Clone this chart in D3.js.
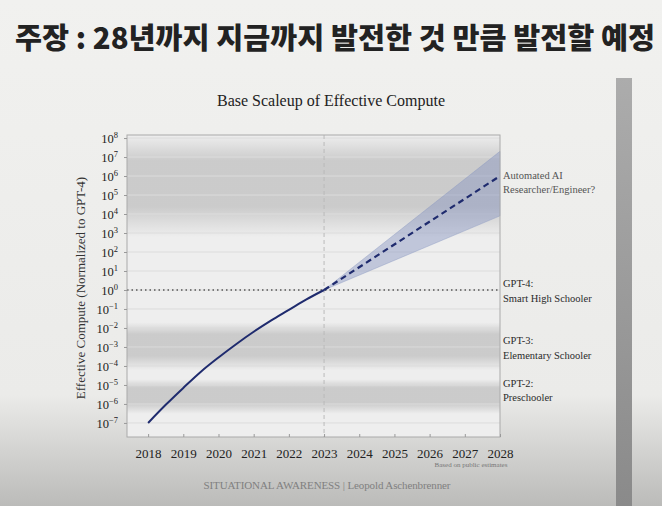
<!DOCTYPE html>
<html>
<head>
<meta charset="utf-8">
<script src="https://cdn.jsdelivr.net/npm/d3@7"></script>
<style>
  html, body { margin: 0; padding: 0; background: #efefed; }
  svg { display: block; }
</style>
</head>
<body>
<svg id="chart" width="662" height="506"></svg>
<script>
// historical trend (effective compute, normalized to GPT-4)
const years = [2018, 2018.5, 2019, 2019.5, 2020, 2020.5, 2021, 2021.5, 2022, 2022.5, 2023];
const compute = [1e-7, 9e-7, 7e-6, 5e-5, 2.8e-4, 1.4e-3, 6.3e-3, 2.5e-2, 8.9e-2, 3.2e-1, 1];

// projection 2023 -> 2028
const projYears = [2023, 2028];
const projMid = [1, 1e6];
const projLow = [1, 8e3];
const projHigh = [1, 2e7];

// milestone labels on the right
const milestones = [
  { lines: ["Automated AI", "Researcher/Engineer?"], value: 5e5, color: "#555" },
  { lines: ["GPT-4:", "Smart High Schooler"], value: 1, color: "#2a2a2a" },
  { lines: ["GPT-3:", "Elementary Schooler"], value: 1e-3, color: "#2a2a2a" },
  { lines: ["GPT-2:", "Preschooler"], value: 6e-6, color: "#2a2a2a" }
];

// shaded level bands [from, to]
const bands = [
  [1.5e8, 6e2],
  [2e-2, 6e-5],
  [2e-5, 3e-7]
];

const xTicks = d3.range(2018, 2029);
const yExps = d3.range(-7, 9);

const svg = d3.select("#chart");
const W = 662, H = 506;
const serif = "'Liberation Serif', 'DejaVu Serif', serif";

const defs = svg.append("defs");
const bg = defs.append("linearGradient").attr("id", "bg").attr("x1", 0).attr("y1", 0).attr("x2", 0).attr("y2", 1);
bg.append("stop").attr("offset", "0%").attr("stop-color", "#f1f1ef");
bg.append("stop").attr("offset", "78%").attr("stop-color", "#ebebe9");
bg.append("stop").attr("offset", "100%").attr("stop-color", "#bbbbb9");

const bar = defs.append("linearGradient").attr("id", "bar").attr("x1", 0).attr("y1", 0).attr("x2", 0).attr("y2", 1);
bar.append("stop").attr("offset", "0%").attr("stop-color", "#acacac");
bar.append("stop").attr("offset", "100%").attr("stop-color", "#8a8a8a");

const band = defs.append("linearGradient").attr("id", "band").attr("x1", 0).attr("y1", 0).attr("x2", 0).attr("y2", 1);
band.append("stop").attr("offset", "0%").attr("stop-color", "#b4b4b4").attr("stop-opacity", 0);
band.append("stop").attr("offset", "25%").attr("stop-color", "#b4b4b4").attr("stop-opacity", 0.6);
band.append("stop").attr("offset", "70%").attr("stop-color", "#b4b4b4").attr("stop-opacity", 0.6);
band.append("stop").attr("offset", "100%").attr("stop-color", "#b4b4b4").attr("stop-opacity", 0);

svg.append("rect").attr("width", W).attr("height", H).attr("fill", "url(#bg)");
svg.append("rect").attr("x", 616).attr("y", 78).attr("width", 16).attr("height", H - 78).attr("fill", "url(#bar)");

// Korean headline
svg.append("text")
  .attr("x", 15).attr("y", 49)
  .attr("font-family", "'Noto Sans CJK KR', sans-serif")
  .attr("font-weight", 900)
  .attr("font-size", 29)
  .attr("fill", "#222")
  .attr("textLength", 640)
  .attr("lengthAdjust", "spacingAndGlyphs")
  .text("주장 : 28년까지 지금까지 발전한 것 만큼 발전할 예정");

const x = d3.scaleLinear().domain([2017.4, 2028]).range([127, 500]);
const y = d3.scaleLog().domain([Math.pow(10, -7.74), Math.pow(10, 8.16)]).range([437, 135]);
const [x0, x1] = x.range();
const [yb, yt] = y.range();

svg.append("text")
  .attr("x", 331).attr("y", 106)
  .attr("text-anchor", "middle")
  .attr("font-family", serif).attr("font-size", 16).attr("fill", "#222")
  .text("Base Scaleup of Effective Compute");

// plot background
svg.append("rect").attr("x", x0).attr("y", yt).attr("width", x1 - x0).attr("height", yb - yt).attr("fill", "#eeeeee");

svg.append("g").selectAll("rect")
  .data(bands)
  .join("rect")
  .attr("x", x0).attr("width", x1 - x0)
  .attr("y", d => Math.max(yt, y(d[0])))
  .attr("height", d => y(d[1]) - Math.max(yt, y(d[0])))
  .attr("fill", "url(#band)");

// horizontal grid
svg.append("g").selectAll("line")
  .data(yExps)
  .join("line")
  .attr("x1", x0).attr("x2", x1)
  .attr("y1", d => y(Math.pow(10, d))).attr("y2", d => y(Math.pow(10, d)))
  .attr("stroke", "#dcdcdc").attr("stroke-width", 1);

// 2023 marker
svg.append("line")
  .attr("x1", x(2023)).attr("x2", x(2023)).attr("y1", yt).attr("y2", yb)
  .attr("stroke", "#bbb").attr("stroke-width", 1).attr("stroke-dasharray", "4,3");

// GPT-4 level
svg.append("line")
  .attr("x1", x0).attr("x2", x1).attr("y1", y(1)).attr("y2", y(1))
  .attr("stroke", "#555").attr("stroke-width", 1.3).attr("stroke-dasharray", "1.5,3");

// projection cone
const proj = projYears.map((yr, i) => ({ yr, lo: projLow[i], hi: projHigh[i], mid: projMid[i] }));
svg.append("path")
  .datum(proj)
  .attr("d", d3.area().x(d => x(d.yr)).y0(d => y(d.lo)).y1(d => y(d.hi)))
  .attr("fill", "#8895c0").attr("fill-opacity", 0.45)
  .attr("stroke", "#8895c0").attr("stroke-opacity", 0.5).attr("stroke-width", 0.8);

svg.append("path")
  .datum(proj)
  .attr("d", d3.line().x(d => x(d.yr)).y(d => y(d.mid)))
  .attr("fill", "none").attr("stroke", "#1f2b6e").attr("stroke-width", 2.2).attr("stroke-dasharray", "6,4");

// historical curve
svg.append("path")
  .datum(years.map((yr, i) => [yr, compute[i]]))
  .attr("d", d3.line().x(d => x(d[0])).y(d => y(d[1])).curve(d3.curveMonotoneX))
  .attr("fill", "none").attr("stroke", "#1f2b6e").attr("stroke-width", 2);

// frame
svg.append("rect").attr("x", x0).attr("y", yt).attr("width", x1 - x0).attr("height", yb - yt)
  .attr("fill", "none").attr("stroke", "#aaa").attr("stroke-width", 1);

// y axis
const yAxis = svg.append("g").attr("transform", `translate(${x0},0)`)
  .call(d3.axisLeft(y).tickValues(yExps.map(e => Math.pow(10, e))).tickSize(3).tickFormat(() => ""));
yAxis.select(".domain").remove();
yAxis.selectAll(".tick line").attr("stroke", "#999");
yAxis.selectAll(".tick").each(function(d) {
  const e = Math.round(Math.log10(d));
  const t = d3.select(this).append("text")
    .attr("x", -9).attr("y", 0).attr("dy", "0.35em")
    .attr("text-anchor", "end")
    .attr("font-family", serif).attr("font-size", 12.5).attr("fill", "#222");
  t.append("tspan").text("10");
  t.append("tspan").attr("font-size", 8.5).attr("dy", "-0.55em")
    .text(e < 0 ? "\u2212" + Math.abs(e) : String(e));
});

// x axis
const xAxis = svg.append("g").attr("transform", `translate(0,${yb})`)
  .call(d3.axisBottom(x).tickValues(xTicks).tickSize(-3).tickPadding(12).tickFormat(d3.format("d")));
xAxis.select(".domain").remove();
xAxis.selectAll(".tick line").attr("stroke", "#999");
xAxis.selectAll(".tick text").attr("font-family", serif).attr("font-size", 13).attr("fill", "#222");

// y label
svg.append("text")
  .attr("transform", `translate(85,${(yt + yb) / 2 + 2}) rotate(-90)`)
  .attr("text-anchor", "middle")
  .attr("font-family", serif).attr("font-size", 13).attr("fill", "#333")
  .text("Effective Compute (Normalized to GPT-4)");

// milestone labels
const ms = svg.append("g").selectAll("text")
  .data(milestones)
  .join("text")
  .attr("x", 503)
  .attr("y", d => y(d.value))
  .attr("font-family", serif).attr("font-size", 10.5)
  .attr("fill", d => d.color);
ms.selectAll("tspan")
  .data(d => d.lines.map((l, i) => ({ l, i })))
  .join("tspan")
  .attr("x", 503)
  .attr("dy", d => d.i === 0 ? "-0.25em" : "1.35em")
  .text(d => d.l);

svg.append("text")
  .attr("x", 471).attr("y", 467)
  .attr("text-anchor", "middle")
  .attr("font-family", serif).attr("font-size", 7).attr("fill", "#777")
  .text("Based on public estimates");

svg.append("text")
  .attr("x", 327).attr("y", 489)
  .attr("text-anchor", "middle")
  .attr("font-family", serif).attr("font-size", 11).attr("fill", "#808080")
  .attr("textLength", 247)
  .text("SITUATIONAL AWARENESS | Leopold Aschenbrenner");
</script>
</body>
</html>
